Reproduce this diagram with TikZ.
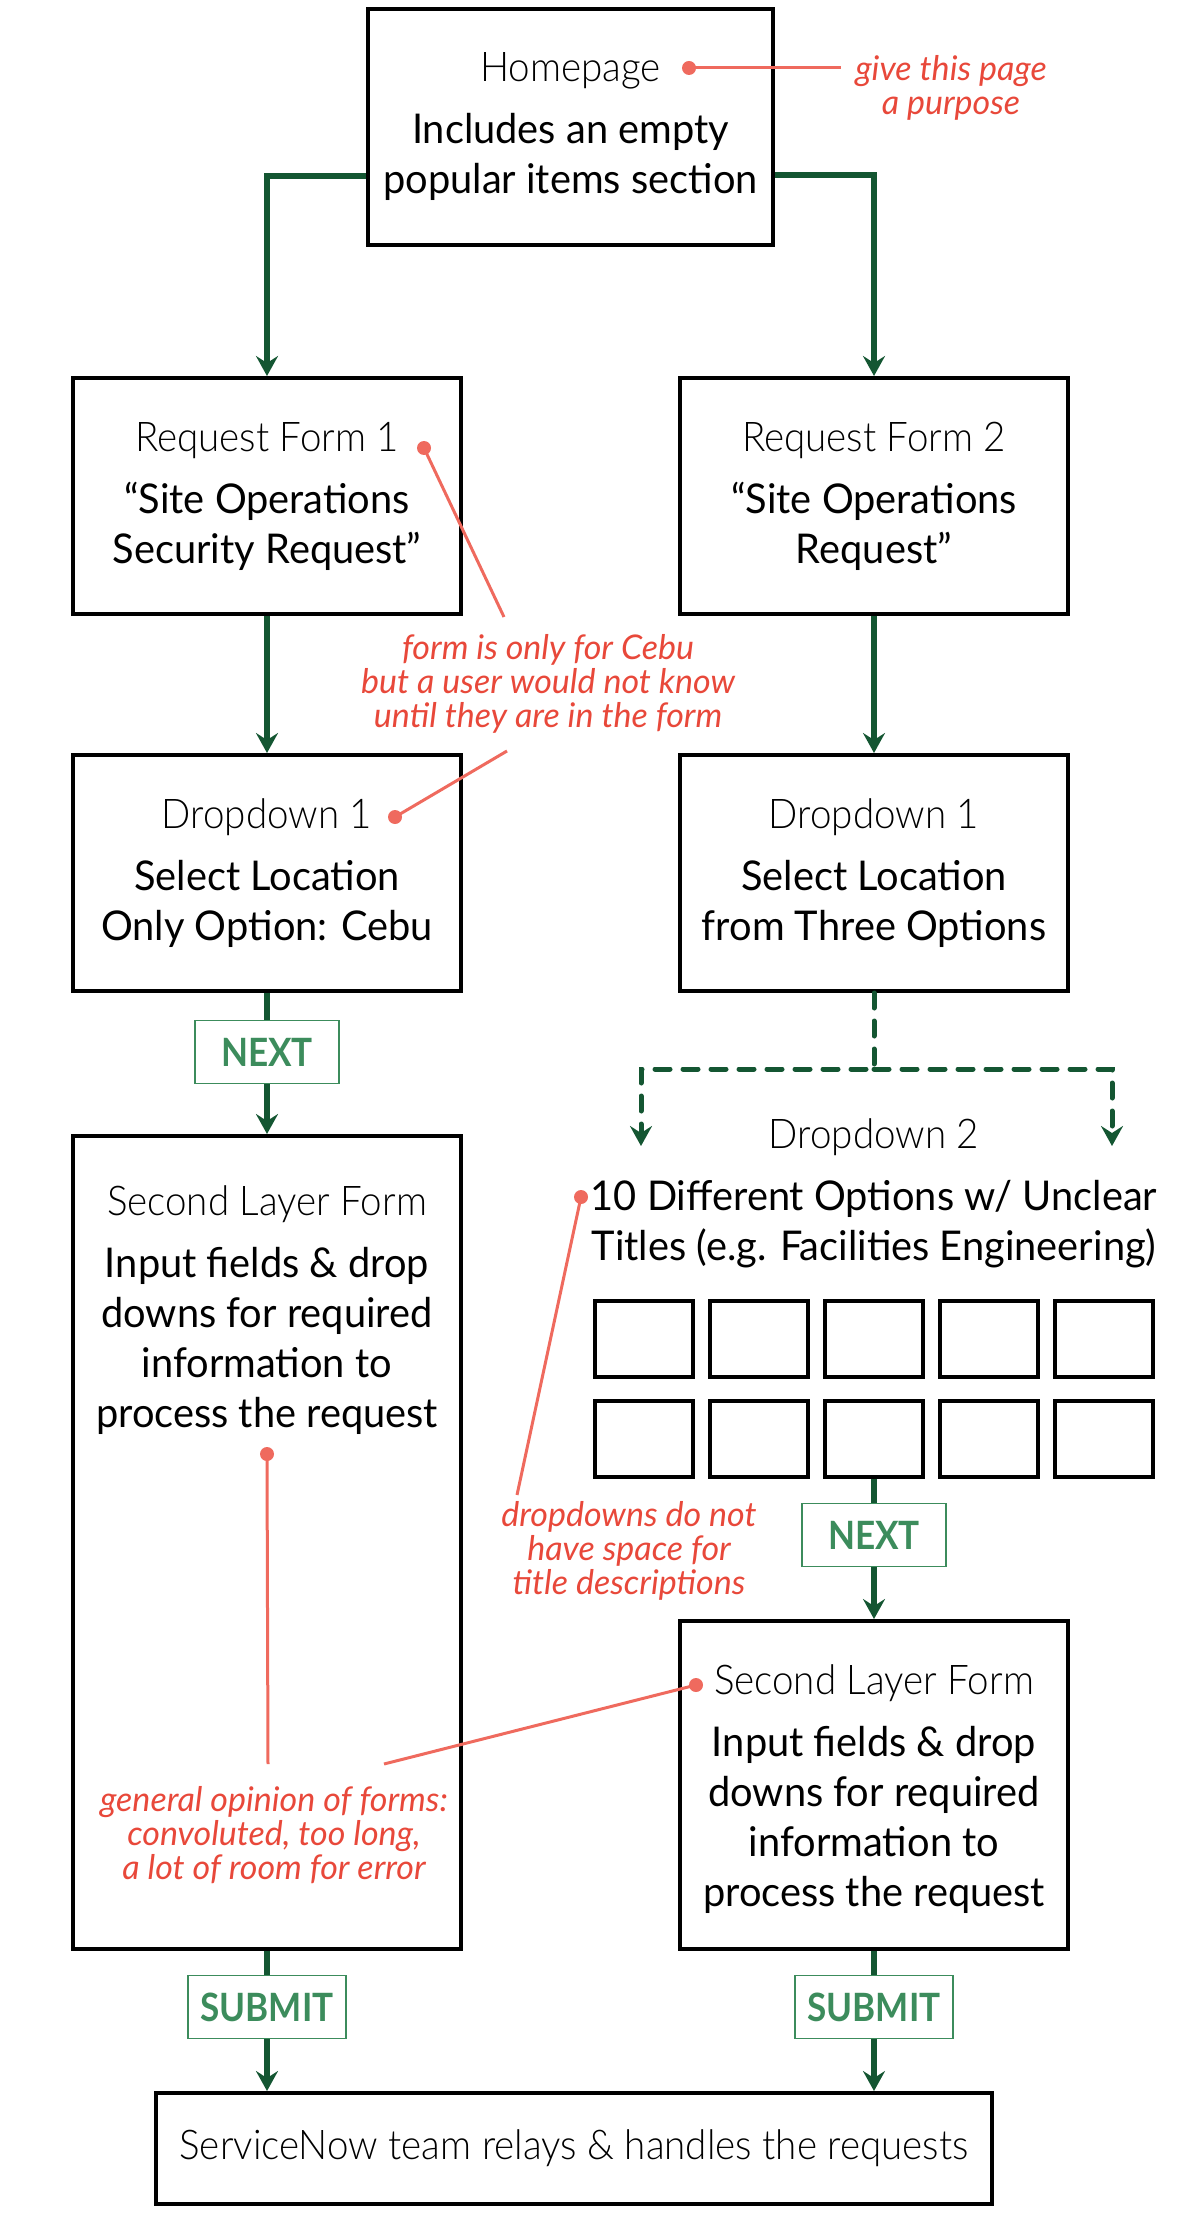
\documentclass[tikz,border=0pt]{standalone}
\usepackage{fontspec}
\setmainfont{Lato}[UprightFeatures={FakeStretch=0.97}, BoldFeatures={FakeStretch=0.9}, ItalicFeatures={FakeStretch=1.0}]
\newfontfamily\lightfont{Lato Light}[FakeStretch=0.94]
\usepackage{xcolor}
\usetikzlibrary{arrows.meta, positioning}

\definecolor{flowgreen}{RGB}{20,86,50}
\definecolor{taggreen}{RGB}{60,140,92}
\definecolor{notered}{RGB}{232,72,58}
\definecolor{pinred}{RGB}{239,106,94}

\begin{document}
\begin{tikzpicture}[x=0.5pt, y=-0.5pt, >=Stealth]

        \useasboundingbox (0,0) rectangle (1200,2225);

        % Styles
        \tikzstyle{box} = [draw, line width=2pt, minimum width=194pt, minimum height=118pt, align=center, inner sep=0pt, font=\fontsize{20.5}{25}\selectfont]
        \tikzstyle{plain} = [align=center, inner sep=0pt, font=\fontsize{20.5}{25}\selectfont]
        \tikzstyle{cell} = [draw, line width=2pt, minimum width=49pt, minimum height=38pt, inner sep=0pt]
        \tikzstyle{tag} = [draw=taggreen, line width=0.7pt, text=taggreen, minimum width=72pt, minimum height=31.5pt, inner sep=0pt, font=\bfseries\fontsize{19.5}{19.5}\selectfont]
        \tikzstyle{note} = [text=notered, align=center, inner sep=0pt, font=\itshape\fontsize{17}{17}\selectfont]
        \tikzstyle{flowline} = [draw=flowgreen, line width=3pt]
        \tikzstyle{flow} = [flowline, -{Stealth[length=10pt, width=11pt, inset=3.5pt]}]
        \tikzstyle{option} = [flow, line width=2.5pt, dash pattern=on 7.5pt off 6.5pt, line cap=round]
        \tikzstyle{pin} = [draw=pinred, line width=1.5pt]
        \tikzstyle{pindot} = [circle, fill=pinred, minimum size=7pt, inner sep=0pt]

        % Homepage
        \node[box, minimum width=202.5pt] (home) at (570.5,127) {{\lightfont Homepage}\\[6pt]Includes an empty\\popular items section};

        % Request forms
        \node[box] (rf1) at (267,496) {{\lightfont Request Form 1}\\[6pt]“Site Operations\\Security Request”};
        \node[box] (rf2) at (874,496) {{\lightfont Request Form 2}\\[6pt]“Site Operations\\Request”};

        % Dropdown 1
        \node[box] (dd1l) at (267,873) {{\lightfont Dropdown 1}\\[6pt]Select Location\\Only Option: Cebu};
        \node[box] (dd1r) at (874,873) {{\lightfont Dropdown 1}\\[6pt]Select Location\\from Three Options};

        % Dropdown 2 and its options
        \node[plain] (dd2) at (874,1193) {{\lightfont Dropdown 2}\\[6pt]10 Different Options w/ Unclear\\Titles (e.g. Facilities Engineering)};
        \node[cell] (c1) at (644,1339) {};
        \node[cell, right=6.5pt of c1] (c2) {};
        \node[cell, right=6.5pt of c2] (c3) {};
        \node[cell, right=6.5pt of c3] (c4) {};
        \node[cell, right=6.5pt of c4] (c5) {};
        \node[cell, below=9.75pt of c1] (c6) {};
        \node[cell, right=6.5pt of c6] (c7) {};
        \node[cell, right=6.5pt of c7] (c8) {};
        \node[cell, right=6.5pt of c8] (c9) {};
        \node[cell, right=6.5pt of c9] (c10) {};

        % Second layer forms
        \node[box, minimum height=406.5pt] (sl1) at (267,1542.5) {\parbox[c][357pt][t]{190pt}{\centering{\lightfont Second Layer Form}\\[6pt]Input fields \& drop\\downs for required\\information to\\process the request}};
        \node[box, minimum height=164pt] (sl2) at (874,1785) {{\lightfont\rule{0pt}{19pt}Second Layer Form}\\[6pt]Input fields \& drop\\downs for required\\information to\\process the request};

        % ServiceNow
        \node[box, minimum width=418pt, minimum height=55.5pt] (final) at (574,2148.5) {\lightfont ServiceNow team relays \& handles the requests};

        % Buttons
        \node[tag] (next1) at (267,1052) {NEXT};
        \node[tag] (next2) at (874,1535) {NEXT};
        \node[tag, minimum width=79pt] (submit1) at (267,2007) {SUBMIT};
        \node[tag, minimum width=79pt] (submit2) at (874,2007) {SUBMIT};

        % Flow arrows
        \draw[flow] ([yshift=-24.5pt]home.west) -| (rf1);
        \draw[flow] ([yshift=-24pt]home.east) -| (rf2);
        \draw[flow] (rf1) -- (dd1l);
        \draw[flow] (rf2) -- (dd1r);
        \draw[flowline] (dd1l) -- (next1);
        \draw[flow] (next1) -- (sl1);
        \draw[flowline] (c8) -- (next2);
        \draw[flow] (next2) -- (sl2);
        \draw[flowline] (sl1) -- (submit1);
        \draw[flow] (submit1) -- (submit1 |- final.north);
        \draw[flowline] (sl2) -- (submit2);
        \draw[flow] (submit2) -- (submit2 |- final.north);

        % Three location options
        \coordinate (split) at (874,1069);
        \coordinate (optl) at (641,1146);
        \coordinate (optr) at (1112,1146);
        \draw[option] (dd1r) -- (split) -| (optl);
        \draw[option] (split) -| (optr);

        % Notes
        \node[note] (purpose) at (951,88) {give this page\\a purpose};
        \node[note] (cebu) at (548,684) {form is only for Cebu\\but a user would not know\\until they are in the form};
        \node[note] (space) at (629,1551) {dropdowns do not\\have space for\\title descriptions};
        \node[note] (opinion) at (274,1835) {general opinion of forms:\\convoluted, too long,\\a lot of room for error};

        % Pins
        \node[pindot] (homepin) at (689,68) {};
        \node[pindot] (rf1pin) at (424,448) {};
        \node[pindot] (dd1pin) at (395,817) {};
        \node[pindot] (dd2pin) at (581,1197) {};
        \node[pindot] (sl1pin) at (267,1454) {};
        \node[pindot] (sl2pin) at (696,1685) {};
        \coordinate (rf1end) at (504,617);
        \coordinate (dd1end) at (507,751);
        \coordinate (dd2end) at (517,1495);
        \coordinate (sl1end) at (268,1764);
        \coordinate (sl2end) at (384,1764);
        \draw[pin, shorten >=7pt] (homepin.center) -- (homepin -| purpose.west);
        \draw[pin] (rf1pin.center) -- (rf1end);
        \draw[pin] (dd1pin.center) -- (dd1end);
        \draw[pin] (dd2pin.center) -- (dd2end);
        \draw[pin] (sl1pin.center) -- (sl1end);
        \draw[pin] (sl2pin.center) -- (sl2end);

    \end{tikzpicture}
\end{document}
